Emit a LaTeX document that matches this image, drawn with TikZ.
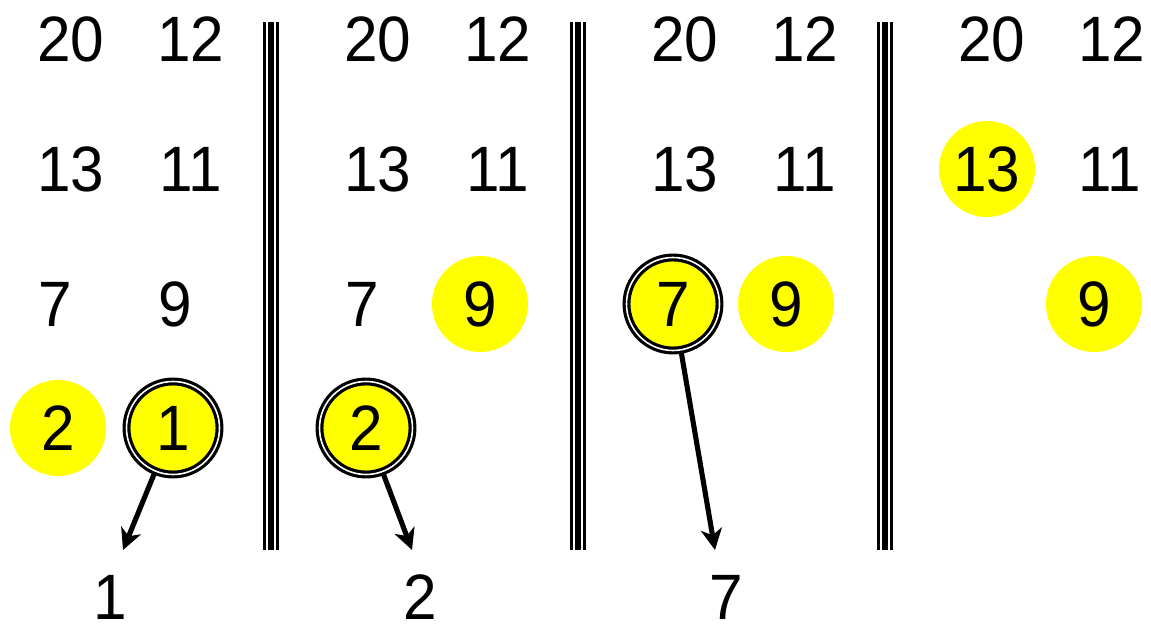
\documentclass[tikz,border=0pt]{standalone}
\usepackage{fontspec}
\setmainfont{Liberation Sans}[FakeStretch=0.94]
\usepackage{xcolor}
\usetikzlibrary{positioning,arrows.meta,calc}
\definecolor{hitcol}{RGB}{255,255,0}

\begin{document}
\begin{tikzpicture}[>={Stealth[length=12pt,width=12pt,inset=3.5pt]},
    every node/.style={font=\fontsize{36.5}{42}\selectfont, inner sep=0pt},
    hit/.style={circle, fill=hitcol, minimum size=1.92cm},
    pick/.style={circle, fill=hitcol, draw=black, double=white,
                 line width=1.8pt, double distance=0.9pt, minimum size=1.86cm},
    rule/.style={line width=0.05cm},
    bar/.style={line width=0.13cm}]
  \useasboundingbox (0,0) rectangle (23.02,-12.48);

  % first panel
  \node (a20) at (1.42,-0.78) {20};
  \node (a12) at (3.82,-0.78) {12};
  \node (a13) at (1.42,-3.38) {13};
  \node (a11) at (3.82,-3.38) {11};
  \node (a7)  at (1.10,-6.08) {7};
  \node (a9)  at (3.50,-6.08) {9};
  \node[hit]  (a2) at (1.16,-8.56) {2};
  \node[pick] (a1) at (3.46,-8.56) {1};

  % second panel
  \node (b20) at (7.56,-0.78) {20};
  \node (b12) at (9.96,-0.78) {12};
  \node (b13) at (7.56,-3.38) {13};
  \node (b11) at (9.96,-3.38) {11};
  \node (b7)  at (7.24,-6.08) {7};
  \node[hit]  (b9) at (9.60,-6.08) {9};
  \node[pick] (b2) at (7.32,-8.56) {2};

  % third panel
  \node (c20) at (13.70,-0.78) {20};
  \node (c12) at (16.10,-0.78) {12};
  \node (c13) at (13.70,-3.38) {13};
  \node (c11) at (16.10,-3.38) {11};
  \node[pick] (c7) at (13.46,-6.08) {7};
  \node[hit]  (c9) at (15.72,-6.08) {9};

  % fourth panel
  \node (d20) at (19.84,-0.78) {20};
  \node (d12) at (22.24,-0.78) {12};
  \node[hit] (d13) at (19.74,-3.38) {13};
  \node (d11) at (22.20,-3.38) {11};
  \node[hit] (d9)  at (21.88,-6.08) {9};

  % separators
  \draw[rule] (5.29,-0.44) -- (5.29,-11.0);
  \draw[bar]  (5.42,-0.44) -- (5.42,-11.0);
  \draw[rule] (5.55,-0.44) -- (5.55,-11.0);
  \draw[rule] (11.43,-0.44) -- (11.43,-11.0);
  \draw[bar]  (11.56,-0.44) -- (11.56,-11.0);
  \draw[rule] (11.69,-0.44) -- (11.69,-11.0);
  \draw[rule] (17.57,-0.44) -- (17.57,-11.0);
  \draw[bar]  (17.70,-0.44) -- (17.70,-11.0);
  \draw[rule] (17.83,-0.44) -- (17.83,-11.0);

  % output
  \coordinate (tip1) at (2.46,-11.0);
  \coordinate (tip2) at (8.24,-11.0);
  \coordinate (tip7) at (14.30,-11.0);
  \node (out1) at (2.20,-11.95) {1};
  \node (out2) at (8.40,-11.95) {2};
  \node (out7) at (14.52,-11.95) {7};

  \draw[->, line width=2.9pt] (a1) -- (tip1);
  \draw[->, line width=2.9pt] (b2) -- (tip2);
  \draw[->, line width=2.9pt] (c7) -- (tip7);
\end{tikzpicture}
\end{document}
